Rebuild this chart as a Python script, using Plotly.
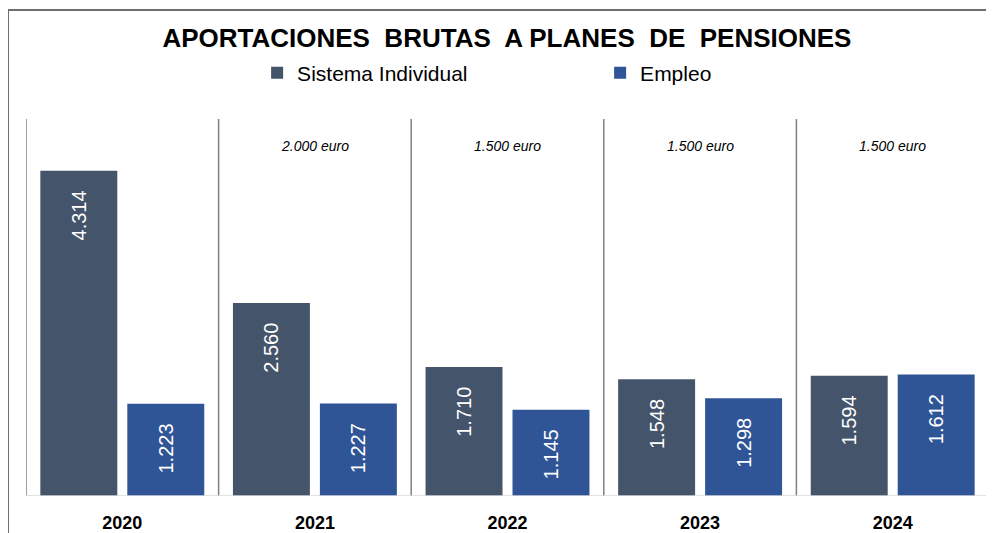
import plotly.graph_objects as go

years = ["2020", "2021", "2022", "2023", "2024"]
sistema_individual = [4314, 2560, 1710, 1548, 1594]
empleo = [1223, 1227, 1145, 1298, 1612]
limite = ["", "2.000 euro", "1.500 euro", "1.500 euro", "1.500 euro"]

C_SI = "#44546A"
C_EM = "#2F5597"
FONT = "Arial, Liberation Sans, sans-serif"

def fmt(v):
    return f"{v:,}".replace(",", ".")

pad = "\u00a0" * 3

fig = go.Figure()
for name, vals, col in [("Sistema Individual", sistema_individual, C_SI),
                        ("Empleo", empleo, C_EM)]:
    fig.add_trace(go.Bar(
        name=name, x=years, y=vals,
        marker=dict(color=col, line=dict(width=0)),
        text=[fmt(v) + pad for v in vals],
        textposition="inside", insidetextanchor="end", textangle=-90,
        textfont=dict(family=FONT, size=20, color="white"),
        hoverinfo="skip",
    ))

shapes = []
for i in range(len(years) + 1):
    shapes.append(dict(type="line", xref="x", yref="paper", x0=i - 0.5, x1=i - 0.5,
                       y0=0, y1=1, line=dict(color="#808080", width=1.5)))
shapes.append(dict(type="line", xref="paper", yref="y", x0=0, x1=1, y0=0, y1=0,
                   line=dict(color="#D9D9D9", width=1.5)))
# outer frame (top and left edges)
shapes.append(dict(type="line", xref="paper", yref="paper", x0=-0.0187, x1=1.02,
                   y0=1.289, y1=1.289, line=dict(color="#6E6E6E", width=2)))
shapes.append(dict(type="line", xref="paper", yref="paper", x0=-0.0187, x1=-0.0187,
                   y0=1.289, y1=-0.2, line=dict(color="#6E6E6E", width=2)))

annotations = []
for i, t in enumerate(limite):
    if t:
        annotations.append(dict(x=i, y=1, xref="x", yref="paper", yanchor="middle",
                                yshift=-27, text=t, showarrow=False,
                                font=dict(family=FONT, size=14, color="black",
                                          style="italic")))

fig.update_layout(
    width=986, height=525,
    margin=dict(l=18, r=5, t=111, b=37, autoexpand=False),
    paper_bgcolor="white", plot_bgcolor="white",
    barmode="group", bargap=0.097, bargroupgap=0.115,
    title=dict(text="APORTACIONES  BRUTAS  A PLANES  DE  PENSIONES",
               x=0.506, xanchor="center", y=0.943, yanchor="middle",
               font=dict(family=FONT, size=26, color="black", weight="bold")),
    legend=dict(orientation="h", x=0.24, xanchor="left", y=1.122, yanchor="middle",
                font=dict(family=FONT, size=21, color="black"),
                entrywidth=298, entrywidthmode="pixels", itemclick=False,
                traceorder="normal"),
    xaxis=dict(type="category", range=[-0.5, len(years) - 0.5], showgrid=False,
               showline=False, ticks="outside", ticklen=10, tickcolor="rgba(0,0,0,0)",
               automargin=False,
               tickfont=dict(family=FONT, size=18, color="black", weight="bold")),
    yaxis=dict(range=[0, 5000], visible=False, showgrid=False, automargin=False),
    shapes=shapes, annotations=annotations,
    showlegend=True,
)

fig.write_html("out.html")
